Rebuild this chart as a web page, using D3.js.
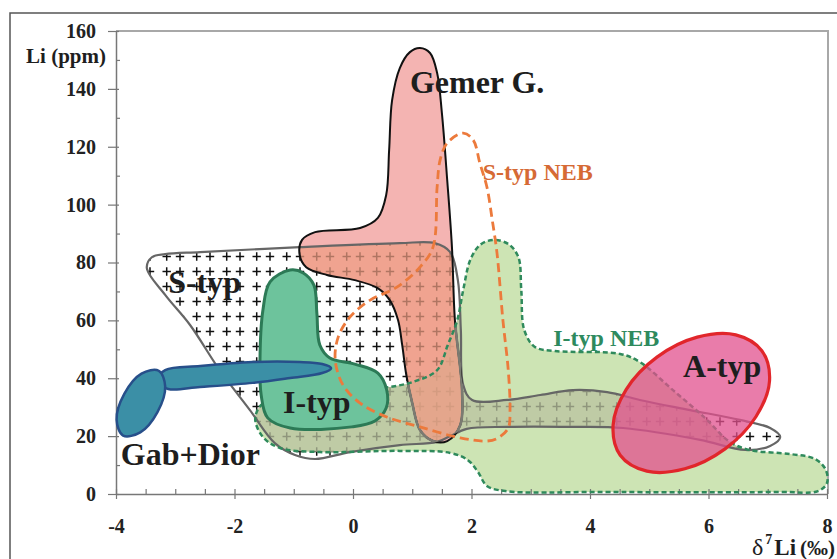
<!DOCTYPE html>
<html>
<head>
<meta charset="utf-8">
<script src="https://cdn.jsdelivr.net/npm/d3@7"></script>
<style>
body { margin: 0; background: #fff; }
svg { display: block; }
svg text { font-family: "Liberation Serif", "DejaVu Serif", "Times New Roman", Times, serif !important; font-weight: bold; }
</style>
</head>
<body>
<div class="chart"></div>
<script>
const WIDTH = 837;
const HEIGHT = 559;

// axes
const xMajor = [-4, -2, 0, 2, 4, 6, 8];
const yMajor = [0, 20, 40, 60, 80, 100, 120, 140, 160];

// fields, [d7Li, Li ppm]
const sTyp = [[-3.48,78.1],[-3.39,81.9],[-3.17,82.9],[-2.58,83.6],[-0.90,85.3],[0.79,86.7],[1.38,86.7],[1.64,83.6],
  [1.77,73.9],[1.82,56.7],[1.86,37.7],[2.01,32.5],[2.60,32.5],[3.16,34.2],[3.71,35.9],[4.29,35.2],[4.84,32.5],
  [5.69,29.0],[6.53,25.6],[7.04,22.8],[7.21,19.7],[7.04,16.6],[6.62,15.2],[5.86,18.7],[4.56,22.8],[3.71,23.2],
  [2.60,23.2],[1.92,22.5],[1.64,20.0],[1.42,18.0],[0.79,16.9],[-0.05,14.5],[-0.64,12.1],[-0.98,13.5],[-1.32,17.6],
  [-1.74,29.0],[-2.25,42.8],[-2.75,58.4],[-3.17,68.8]];

const gemer = [[1.13,154.1],[1.30,152.4],[1.42,145.5],[1.50,131.7],[1.59,108.5],[1.67,85.3],[1.72,60.1],[1.84,35.9],
  [1.81,23.8],[1.59,18.3],[1.35,18.3],[1.13,22.1],[1.00,31.4],[0.90,41.1],[0.83,51.5],[0.76,60.1],[0.62,67.0],
  [0.41,71.2],[0.03,73.9],[-0.44,75.7],[-0.79,78.4],[-0.90,82.6],[-0.86,87.8],[-0.64,90.5],[0.12,91.9],[0.42,95.4],
  [0.56,103.3],[0.61,118.9],[0.66,136.1],[0.79,147.2],[0.96,152.7]];

const sTypNeb = [[1.86,124.7],[2.03,122.3],[2.14,114.4],[2.26,106.1],[2.35,94.7],[2.43,83.3],[2.53,60.1],[2.62,42.8],
  [2.65,29.0],[2.62,22.8],[2.45,19.4],[2.26,18.3],[1.81,19.4],[1.13,23.2],[0.57,26.6],[0.12,31.4],[-0.17,37.7],
  [-0.30,46.3],[-0.25,54.2],[-0.05,61.2],[0.29,67.0],[0.74,71.5],[1.13,78.4],[1.35,85.3],[1.42,106.1],[1.47,115.4],
  [1.59,121.3]];

const iTypNeb = [[-1.65,26.3],[-1.49,31.8],[-0.56,35.2],[0.62,37.0],[1.05,39.0],[1.42,42.8],[1.60,51.5],[1.76,60.1],
  [1.86,70.5],[1.98,80.9],[2.14,86.0],[2.36,87.8],[2.62,86.4],[2.79,81.9],[2.84,70.5],[2.89,56.7],[3.07,50.8],
  [3.41,49.4],[4.51,48.4],[4.84,45.6],[5.40,35.9],[5.94,26.3],[6.36,18.0],[6.70,15.2],[7.38,13.8],[7.80,12.1],
  [7.98,8.3],[8.00,3.8],[7.85,1.0],[7.21,0.7],[4.17,0.7],[2.57,1.0],[2.26,2.8],[2.11,7.6],[1.94,11.7],[1.64,14.2],
  [0.79,14.9],[-0.56,14.5],[-1.23,15.9],[-1.52,19.7]];

const iTyp = [[-1.06,77.4],[-0.84,76.4],[-0.66,72.2],[-0.61,62.5],[-0.56,51.5],[-0.39,47.0],[0.03,44.9],[0.42,41.8],
  [0.57,35.9],[0.56,29.7],[0.37,25.2],[-0.02,23.2],[-1.06,22.8],[-1.44,26.3],[-1.55,34.2],[-1.57,46.3],[-1.52,63.6],
  [-1.40,73.3]];

const gabDiorHead = [[-3.28,42.6],[-3.17,37.2],[-3.30,28.3],[-3.59,21.3],[-3.88,20.2],[-3.99,25.7],[-3.86,34.6],[-3.57,41.6]];

const gabDiorTail = [[-3.17,42.8],[-2.58,44.2],[-1.69,45.6],[-0.90,45.6],[-0.52,44.9],[-0.37,43.5],[-0.52,41.8],
  [-1.06,40.1],[-1.69,38.4],[-2.58,37.0],[-3.12,36.3],[-3.33,39.0]];

const aTyp = [[6.90,49.5],[7.03,39.1],[6.80,26.7],[6.28,15.6],[5.60,8.7],[4.96,7.9],[4.51,13.4],[4.39,23.8],
  [4.61,36.1],[5.13,47.3],[5.81,54.2],[6.46,55.0]];

const svg = d3.select(".chart").append("svg")
  .attr("width", WIDTH)
  .attr("height", HEIGHT)
  .attr("font-family", "Liberation Serif");

const x = d3.scaleLinear().domain([-4, 8]).range([116, 827]);
const y = d3.scaleLinear().domain([0, 160]).range([494, 31]);

const area = d3.line()
  .x(d => x(d[0]))
  .y(d => y(d[1]))
  .curve(d3.curveCatmullRomClosed.alpha(0.5));

// outer frame
svg.append("path")
  .attr("d", "M10," + HEIGHT + "V13H" + WIDTH)
  .attr("fill", "none").attr("stroke", "#555").attr("stroke-width", 1.5);

const defs = svg.append("defs");
const pat = defs.append("pattern")
  .attr("id", "cross")
  .attr("patternUnits", "userSpaceOnUse")
  .attr("x", 310).attr("y", 249)
  .attr("width", 30).attr("height", 15);
pat.append("path")
  .attr("d", "M2.5,7.5h8.4M6.7,3.3v8.4M15.8,7.5h8.4M20,3.3v8.4")
  .attr("stroke", "#111").attr("stroke-width", 1.5);

defs.append("clipPath").attr("id", "sclip")
  .append("path").attr("d", area(sTyp));
defs.append("clipPath").attr("id", "nclip")
  .append("path").attr("d", area(iTypNeb));

// fills
svg.append("path").attr("d", area(iTypNeb)).attr("fill", "#cde4b4");
svg.append("path").attr("d", area(gemer)).attr("fill", "#f4b4b2");
svg.append("path").attr("d", area(sTyp)).attr("fill", "url(#cross)");

const tint = svg.append("g").attr("clip-path", "url(#sclip)");
tint.append("path").attr("d", area(iTypNeb)).attr("fill", "#b9c3a0").attr("opacity", 0.75);
tint.append("path").attr("d", area(gemer)).attr("fill", "#ee9c82").attr("opacity", 0.72);

// plot frame + axes
svg.append("path")
  .attr("d", "M" + x(-4) + "," + y(160) + "H" + (x(8) + 1) + "V" + y(0))
  .attr("fill", "none").attr("stroke", "#a8a8a8").attr("stroke-width", 2);

const yAxis = svg.append("g")
  .attr("transform", "translate(" + x(-4) + ",0)")
  .call(d3.axisLeft(y).tickValues(yMajor).tickFormat(d => String(d))
    .tickSize(8).tickPadding(12).tickSizeOuter(0));
yAxis.selectAll(".tick line").attr("x1", 3);
svg.append("g")
  .attr("transform", "translate(" + x(-4) + ",0)")
  .call(d3.axisLeft(y).tickValues(d3.range(10, 160, 20)).tickSize(-4).tickFormat("").tickSizeOuter(0))
  .select(".domain").remove();

const xAxis = svg.append("g")
  .attr("transform", "translate(0," + y(0) + ")")
  .call(d3.axisBottom(x).tickValues(xMajor).tickFormat(d => String(d))
    .tickSize(5).tickPadding(20).tickSizeOuter(0));
xAxis.selectAll(".tick line").attr("y1", -5);
svg.append("g")
  .attr("transform", "translate(0," + y(0) + ")")
  .call(d3.axisBottom(x).tickValues(d3.range(-3.5, 8, 0.5).filter(v => v % 2 !== 0)).tickSize(-5).tickFormat("").tickSizeOuter(0))
  .select(".domain").remove();

svg.selectAll("g").attr("font-family", null);
svg.selectAll(".domain").attr("stroke", "#777").attr("stroke-width", 1.5);
svg.selectAll(".tick line").attr("stroke", "#777").attr("stroke-width", 1.2);
svg.selectAll(".tick text")
  .attr("fill", "#222")
  .style("font-size", "20px");

// outlines
svg.append("path").attr("d", area(sTyp))
  .attr("fill", "none").attr("stroke", "#666").attr("stroke-width", 2.2);
svg.append("path").attr("d", area(gemer))
  .attr("fill", "none").attr("stroke", "#111").attr("stroke-width", 2);
// Gemer outline reads grey where it runs inside S-typ and I-typ NEB
svg.append("g").attr("clip-path", "url(#sclip)")
  .append("g").attr("clip-path", "url(#nclip)")
  .append("path").attr("d", area(gemer))
  .attr("fill", "none").attr("stroke", "#7b7b72").attr("stroke-width", 2.6);
svg.append("path").attr("d", area(iTypNeb))
  .attr("fill", "none").attr("stroke", "#2f8a5c").attr("stroke-width", 2.5)
  .attr("stroke-dasharray", "5,3");

svg.append("path").attr("d", area(iTyp))
  .attr("fill", "#6dc39c").attr("stroke", "#2c7a56").attr("stroke-width", 3);

svg.append("path").attr("d", area(gabDiorTail))
  .attr("fill", "#3b8fa6").attr("stroke", "#274f8a").attr("stroke-width", 2.5);
svg.append("path").attr("d", area(gabDiorHead))
  .attr("fill", "#3b8fa6").attr("stroke", "#274f8a").attr("stroke-width", 2.5);

svg.append("path").attr("d", area(sTypNeb))
  .attr("fill", "none").attr("stroke", "#ec7a3c").attr("stroke-width", 2.8)
  .attr("stroke-dasharray", "9,5");

svg.append("path").attr("d", area(aTyp))
  .attr("fill", "#e2508e").attr("fill-opacity", 0.75)
  .attr("stroke", "#e1262b").attr("stroke-width", 3.2);

// labels
const label = (t, px, py, size, color) => svg.append("text")
  .attr("x", x(px)).attr("y", y(py))
  .attr("fill", color || "#1e1e1e")
  .style("font-size", size + "px")
  .text(t);

label("Gemer G.", 0.96, 138.6, 32);
label("S-typ", -3.12, 69.5, 32);
label("I-typ", -1.18, 28.0, 32);
label("Gab+Dior", -3.92, 10.0, 32);
label("A-typ", 5.57, 40.4, 32);
label("S-typ NEB", 2.19, 108.5, 24, "#d66a35");
label("I-typ NEB", 3.38, 51.1, 24, "#2e8a5e");

svg.append("text")
  .attr("x", 106).attr("y", 63)
  .attr("text-anchor", "end")
  .attr("fill", "#1e1e1e")
  .style("font-size", "21px")
  .text("Li (ppm)");

const xt = svg.append("text")
  .attr("x", 752).attr("y", 555)
  .attr("fill", "#1e1e1e");
xt.append("tspan").style("font-size", "24px").style("font-weight", "normal").text("δ");
xt.append("tspan").attr("dx", 2).attr("dy", -11).style("font-size", "14px").text("7");
xt.append("tspan").attr("dx", 2).attr("dy", 11).style("font-size", "23px").text("Li");
xt.append("tspan").attr("dx", 4).style("font-size", "21px").text("(‰)");
</script>
</body>
</html>
